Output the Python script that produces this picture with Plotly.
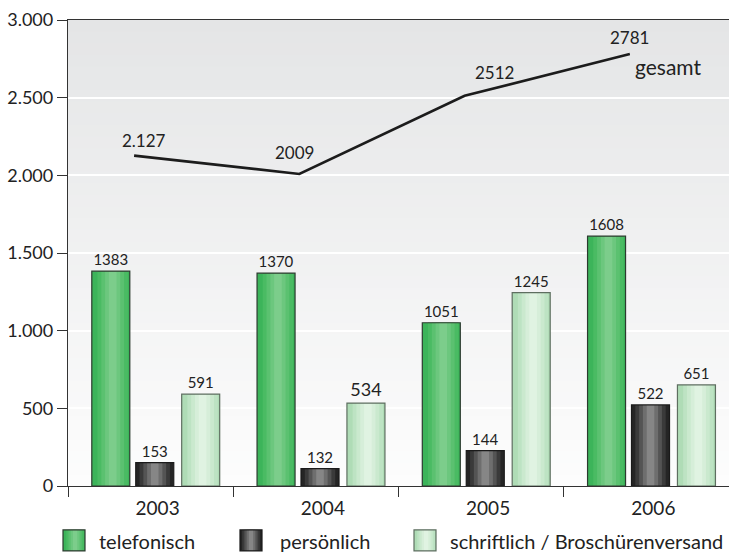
import plotly.graph_objects as go

# ---------------- data ----------------
years = ["2003", "2004", "2005", "2006"]
telefonisch = [1383, 1370, 1051, 1608]
persoenlich = [150, 112, 228, 522]          # bar heights as drawn
persoenlich_labels = ["153", "132", "144", "522"]
schriftlich = [591, 534, 1245, 651]
gesamt = [2127, 2009, 2512, 2781]
gesamt_labels = ["2.127", "2009", "2512", "2781"]
y_ticks = [0, 500, 1000, 1500, 2000, 2500, 3000]
series_names = ["telefonisch", "persönlich", "schriftlich / Broschürenversand"]

FONT = "Lato"
TXT = "#222222"
W = 0.23  # bar width (category units)

styles = [
    dict(offset=-0.356, edge="#3cb45a", line="#2c3a2f",
         bands=[(0.8, "#4abb63"), (0.6, "#5bc170"), (0.4, "#6cc77e"), (0.2, "#7ccd8b")], c=0.55,
         size=[15, 15, 15, 15]),
    dict(offset=-0.090, edge="#252525", line="#1a1a1a",
         bands=[(0.8, "#3a3a3a"), (0.6, "#545454"), (0.4, "#6e6e6e"), (0.2, "#868686")], c=0.5,
         size=[15, 15, 15, 15]),
    dict(offset=0.188, edge="#afdcb6", line="#5e6e60",
         bands=[(0.8, "#bde3c3"), (0.6, "#cae9ce"), (0.4, "#d6eed9"), (0.2, "#e0f3e2")], c=0.55,
         size=[15, 18, 15, 15]),
]
values = [telefonisch, persoenlich, schriftlich]
labels = [[str(v) for v in telefonisch], persoenlich_labels, [str(v) for v in schriftlich]]

fig = go.Figure()

for vals, labs, st in zip(values, labels, styles):
    fig.add_trace(go.Bar(x=years, y=vals, width=W, offset=st["offset"],
                         marker=dict(color=st["edge"], line=dict(width=0)),
                         hoverinfo="skip", showlegend=False))
    for frac, col in st["bands"]:
        off = st["offset"] + st["c"] * W - frac * W / 2
        fig.add_trace(go.Bar(x=years, y=vals, width=W * frac, offset=off,
                             marker=dict(color=col, line=dict(width=0)),
                             hoverinfo="skip", showlegend=False))
    fig.add_trace(go.Bar(x=years, y=vals, width=W, offset=st["offset"],
                         marker=dict(color="rgba(0,0,0,0)", line=dict(width=1.2, color=st["line"])),
                         text=labs, texttemplate="%{text}", textposition="outside",
                         textfont=dict(family=FONT, size=st["size"], color=TXT),
                         constraintext="none", cliponaxis=False,
                         hoverinfo="skip", showlegend=False))

# total line
fig.add_trace(go.Scatter(x=years, y=gesamt, mode="lines", xaxis="x2", yaxis="y",
                         line=dict(color="#1c1c1c", width=2.6),
                         hoverinfo="skip", showlegend=False))

annotations = []
label_shift = [(10, 15), (-5, 21), (30, 23), (0, 17)]
for i, (v, t, (dx, dy)) in enumerate(zip(gesamt, gesamt_labels, label_shift)):
    annotations.append(dict(x=i, y=v, xref="x2", yref="y", text=t, showarrow=False,
                            xshift=dx, yshift=dy, font=dict(family=FONT, size=17, color=TXT)))
annotations.append(dict(x=len(years) - 1, y=gesamt[-1], xref="x2", yref="y", text="gesamt",
                        showarrow=False, xshift=38, yshift=-12,
                        font=dict(family=FONT, size=21, color=TXT)))

# plot-area background gradient bands
shapes = []
N = 40
top_rgb = (0xe4, 0xe5, 0xe6)
bot_rgb = (0xfd, 0xfd, 0xfd)
for k in range(N):
    t = (k + 0.5) / N
    rgb = tuple(round(b + (a - b) * t) for a, b in zip(top_rgb, bot_rgb))
    shapes.append(dict(type="rect", xref="paper", yref="paper", x0=0, x1=1,
                       y0=k / N, y1=(k + 1) / N + 0.002, layer="below",
                       fillcolor="rgb(%d,%d,%d)" % rgb, line=dict(width=0)))

# custom legend
PW, PH, BASE = 661.0, 467.0, 486.0
def xp(px):
    return (px - 68) / PW
def yp(py):
    return (BASE - py) / PH

sw_x = [63, 240, 414]
txt_x = [97, 278, 448]
sw_top, sw_bot = 530, 551
for name, st, sx, tx in zip(series_names, styles, sw_x, txt_x):
    w = 22
    shapes.append(dict(type="rect", xref="paper", yref="paper", x0=xp(sx), x1=xp(sx + w),
                       y0=yp(sw_bot), y1=yp(sw_top), fillcolor=st["edge"], line=dict(width=0)))
    for frac, col in st["bands"]:
        cx = sx + st["c"] * w
        shapes.append(dict(type="rect", xref="paper", yref="paper",
                           x0=xp(cx - frac * w / 2), x1=xp(cx + frac * w / 2),
                           y0=yp(sw_bot), y1=yp(sw_top), fillcolor=col, line=dict(width=0)))
    shapes.append(dict(type="rect", xref="paper", yref="paper", x0=xp(sx), x1=xp(sx + w),
                       y0=yp(sw_bot), y1=yp(sw_top), fillcolor="rgba(0,0,0,0)",
                       line=dict(width=1.2, color=st["line"])))
    annotations.append(dict(x=xp(tx), y=yp(541), xref="paper", yref="paper", text=name,
                            xanchor="left", yanchor="middle", showarrow=False,
                            font=dict(family=FONT, size=20, color=TXT)))

fig.update_layout(
    width=729, height=553,
    margin=dict(l=68, r=0, t=20, b=67, pad=0),
    paper_bgcolor="white", plot_bgcolor="#f2f2f3",
    barmode="overlay",
    separators=",.",
    font=dict(family=FONT, color=TXT),
    showlegend=False,
    shapes=shapes,
    annotations=annotations,
    xaxis=dict(type="category", categoryorder="array", categoryarray=years,
               range=[-0.5, 3.5], tickson="boundaries", ticks="outside", ticklen=10,
               tickwidth=1.3, tickcolor="#333333", showline=True, linecolor="#333333",
               linewidth=1.3, mirror=True, showgrid=False,
               ticklabelshift=7, ticklabelstandoff=5,
               tickfont=dict(family=FONT, size=19, color=TXT)),
    xaxis2=dict(type="category", categoryorder="array", categoryarray=years,
                overlaying="x", anchor="y", range=[-0.4, 3.6], visible=True,
                showline=False, showgrid=False, zeroline=False, ticks="",
                showticklabels=False),
    yaxis=dict(range=[0, 3000], tickvals=y_ticks, tickformat=",d", ticks="outside",
               ticklen=10, tickwidth=1.3, tickcolor="#333333", showline=True,
               linecolor="#333333", linewidth=1.3, showgrid=True, gridcolor="white",
               gridwidth=2, zeroline=False,
               tickfont=dict(family=FONT, size=18, color=TXT)),
)

fig.write_html(
    "out.html",
    config={"displayModeBar": False},
    post_script="document.body.style.margin='0';"
                "document.body.style.overflow='hidden';"
                "document.documentElement.style.overflow='hidden';",
)
